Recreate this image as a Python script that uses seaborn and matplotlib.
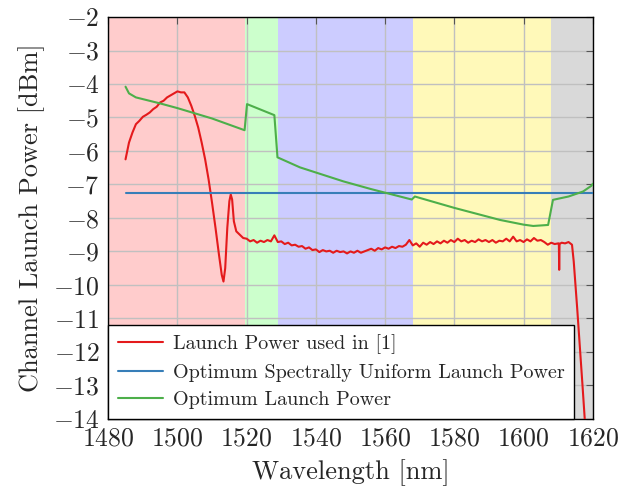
import numpy as np
import pandas as pd
import matplotlib
matplotlib.use('Agg')
import matplotlib.pyplot as plt
import seaborn as sns

# Launch power used in [1]: rising edge + gain-edge dip
red_rise_wl = [1485, 1486, 1487, 1488, 1489, 1490, 1491, 1492, 1493, 1494, 1495, 1496,
               1497, 1498, 1499, 1500, 1501, 1502, 1503, 1504, 1505, 1506, 1507, 1508,
               1509, 1510, 1511, 1512, 1512.8, 1513.3, 1513.8, 1514.4, 1515, 1515.4,
               1515.8, 1516.3, 1517, 1518, 1519]
red_rise_db = [-6.25, -5.75, -5.45, -5.2, -5.1, -4.98, -4.92, -4.85, -4.75, -4.68, -4.55, -4.5,
               -4.4, -4.34, -4.28, -4.22, -4.25, -4.25, -4.4, -4.65, -4.95, -5.3, -5.75, -6.25,
               -6.85, -7.55, -8.3, -9.1, -9.7, -9.9, -9.5, -8.3, -7.5, -7.3,
               -7.45, -8.1, -8.4, -8.5, -8.6]
# flat part, 1 nm steps from 1520 to 1610
red_flat_db = [-8.62, -8.70, -8.66, -8.74, -8.68, -8.72, -8.66, -8.70, -8.52, -8.72,
               -8.70, -8.78, -8.74, -8.82, -8.80, -8.86, -8.84, -8.92, -8.88, -8.96,
               -8.94, -9.02, -8.96, -9.00, -8.98, -9.04, -8.98, -9.02, -9.00, -9.06,
               -9.00, -9.04, -8.98, -9.04, -9.00, -8.96, -8.92, -8.98, -8.90, -8.94,
               -8.88, -8.92, -8.86, -8.90, -8.84, -8.86, -8.80, -8.66, -8.82, -8.76,
               -8.86, -8.74, -8.80, -8.72, -8.78, -8.70, -8.76, -8.68, -8.74, -8.66,
               -8.72, -8.62, -8.70, -8.66, -8.74, -8.68, -8.72, -8.64, -8.70, -8.66,
               -8.72, -8.66, -8.74, -8.68, -8.70, -8.62, -8.70, -8.56, -8.70, -8.66,
               -8.72, -8.64, -8.70, -8.60, -8.68, -8.66, -8.72, -8.80, -8.74, -8.78,
               -8.76]
red_tail_wl = [1610.2, 1610.3, 1610.4, 1611, 1612, 1613, 1614, 1614.5, 1615, 1615.5,
               1616, 1617, 1618]
red_tail_db = [-8.76, -9.55, -8.78, -8.74, -8.76, -8.72, -8.8, -9.3, -10.0, -10.7,
               -11.45, -12.95, -14.5]

# optimum spectrally uniform launch power
uni_wl = [1485, 1620]
uni_db = [-7.25, -7.25]

# optimum launch power
opt_wl = [1485, 1486, 1488, 1495, 1500, 1510, 1519.4, 1520.1, 1528.0, 1528.9, 1535.4,
          1548, 1556, 1564.3, 1567.7, 1568.6, 1580, 1593.2, 1600, 1602.8, 1607.1,
          1608.5, 1613, 1617.2, 1619.6, 1620]
opt_db = [-4.08, -4.28, -4.4, -4.58, -4.72, -5.03, -5.38, -4.6, -4.93, -6.19, -6.49,
          -6.91, -7.14, -7.36, -7.45, -7.36, -7.7, -8.06, -8.2, -8.24, -8.21,
          -7.46, -7.36, -7.21, -7.04, -6.98]

# spectral bands
band_edges = [1480, 1519.5, 1529, 1568, 1608, 1620]
band_colors = ['#ffcccc', '#ccffcc', '#ccccff', '#fff9b9', '#d9d9d9']

red_wl = red_rise_wl + list(np.arange(1520, 1611)) + red_tail_wl
red_db = red_rise_db + red_flat_db + red_tail_db

sns.set_style('white')
plt.rcParams['font.family'] = 'serif'
plt.rcParams['font.serif'] = ['cmr10', 'DejaVu Serif']
plt.rcParams['mathtext.fontset'] = 'cm'
plt.rcParams['axes.formatter.use_mathtext'] = True

fig = plt.figure(figsize=(6.22, 4.87), dpi=100)
ax = fig.add_axes([0.174, 0.140, 0.779, 0.825])

for i in range(len(band_colors)):
    ax.axvspan(band_edges[i], band_edges[i + 1], color=band_colors[i], lw=0, zorder=0)

ax.grid(True, color='#c0c0c0', linewidth=1, zorder=1)
ax.set_axisbelow(True)

df_red = pd.DataFrame({'wl': red_wl, 'db': red_db})
df_uni = pd.DataFrame({'wl': uni_wl, 'db': uni_db})
df_opt = pd.DataFrame({'wl': opt_wl, 'db': opt_db})

sns.lineplot(data=df_red, x='wl', y='db', color='#e41a1c', linewidth=1.5, estimator=None,
             sort=False, ax=ax, label='Launch Power used in [1]', zorder=3)
sns.lineplot(data=df_uni, x='wl', y='db', color='#377eb8', linewidth=1.5, estimator=None,
             sort=False, ax=ax, label='Optimum Spectrally Uniform Launch Power', zorder=3)
sns.lineplot(data=df_opt, x='wl', y='db', color='#4daf4a', linewidth=1.5, estimator=None,
             sort=False, ax=ax, label='Optimum Launch Power', zorder=3)

ax.set_xlim(1480, 1620)
ax.set_ylim(-14, -2)
ax.set_xticks(range(1480, 1621, 20))
ax.set_yticks(range(-14, -1, 1))
ax.tick_params(direction='in', length=5, top=True, right=True, labelsize=18.5,
               color='#555555', pad=6)
ax.set_xlabel('Wavelength [nm]', fontsize=19, labelpad=6)
ax.set_ylabel('Channel Launch Power [dBm]', fontsize=19, labelpad=6)
for s in ax.spines.values():
    s.set_color('black')
    s.set_linewidth(1)

leg = ax.legend(loc='lower left', bbox_to_anchor=(0, 0), borderaxespad=0, fontsize=14.5,
                fancybox=False, framealpha=1, edgecolor='black', handlelength=2.2,
                handletextpad=0.5, labelspacing=0.45, borderpad=0.5)
leg.get_frame().set_linewidth(1)

fig.savefig('out.png', dpi=100)
